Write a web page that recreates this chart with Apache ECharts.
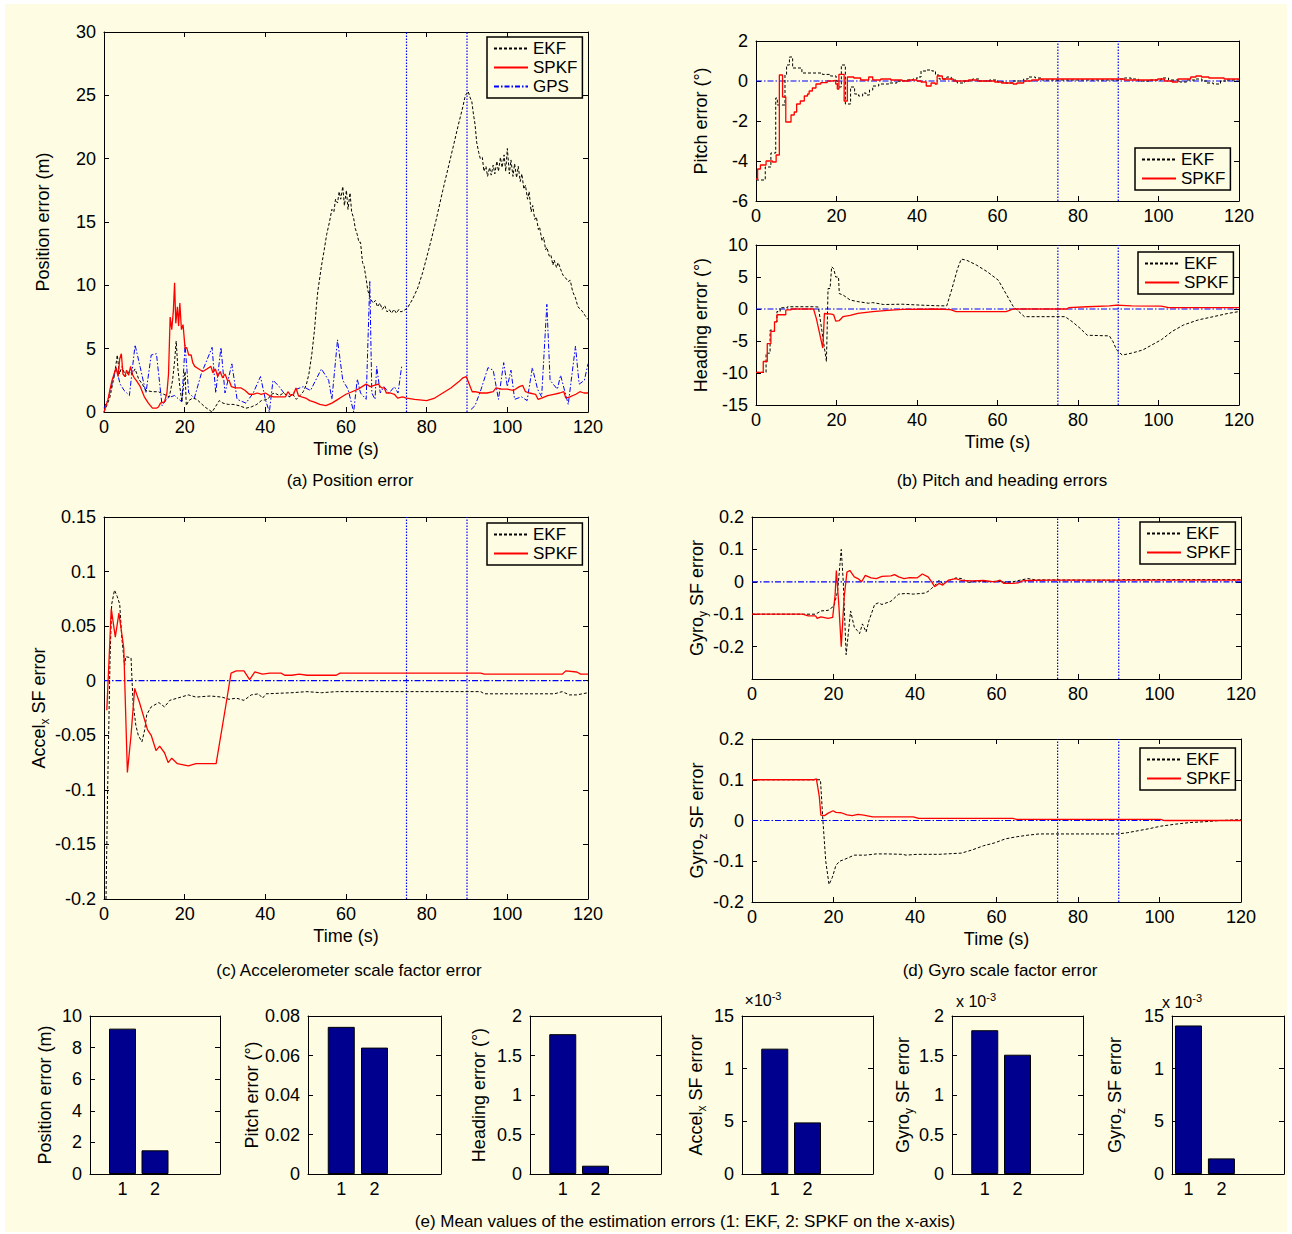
<!DOCTYPE html>
<html>
<head>
<meta charset="utf-8">
<script src="https://cdn.jsdelivr.net/npm/echarts@6/dist/echarts.min.js"></script>
<style>
  html, body { margin: 0; padding: 0; background: #fff; }
  #chart { width: 1292px; height: 1234px; }
</style>
</head>
<body>
<div id="chart"></div>
<script>
// ---- data: [time (s), value] ----
const posEkf = [[0,0],[0.8,0.6],[1.5,1.2],[2.3,2.5],[2.9,3.6],[3.3,4.5],[3.8,3.0],[4.5,3.6],[5.3,2.8],[6.2,3.2],[7.0,3.0],[7.7,3.4],[8.6,2.6],[9.5,2.2],[10.4,1.7],[12,1.6],[13.5,1.6],[14.8,1.4],[16.2,1.2],[17.0,2.5],[17.5,4.0],[17.9,5.6],[18.3,3.5],[18.8,2.0],[19.3,0.8],[19.7,2.0],[20.1,3.2],[20.4,0.5],[21,0.9],[22,1.1],[23,1.0],[24,0.7],[25,0.4],[26.8,0.0],[27.6,0.4],[28.6,0.9],[29.5,0.7],[30.8,0.6],[32,0.6],[33.5,0.5],[35.2,0.3],[36.5,0.4],[37.9,0.6],[39,0.9],[40.6,1.0],[41.5,1.4],[42.3,1.5],[43.5,1.3],[44.5,1.5],[45.9,1.2],[46.8,1.4],[47.7,1.0],[48.6,1.3],[49.4,1.6],[50.2,2.2],[50.8,3.0],[51.5,4.5],[52.2,6.5],[52.7,8.5],[53.0,9.5],[53.9,11.5],[54.6,12.8],[55.2,14.0],[55.9,15.0],[56.5,16.0],[57.0,15.8],[57.4,16.8],[57.9,16.5],[58.3,17.4],[58.7,16.8],[59.2,17.8],[59.6,16.3],[60.1,17.5],[60.5,16.0],[61.0,17.3],[61.4,15.8],[61.9,15.3],[62.3,14.5],[62.8,14.0],[63.2,13.4],[63.6,13.4],[64.1,11.8],[64.5,11.5],[65.0,10.5],[65.4,9.6],[66.0,9.0],[66.7,8.6],[67.3,8.8],[67.8,8.3],[68.4,8.6],[69.0,8.1],[69.6,8.4],[70.2,7.9],[70.7,8.1],[71.3,7.8],[71.9,8.1],[72.5,7.8],[73.1,8.1],[73.6,7.9],[74.3,8.0],[75.2,8.2],[76.5,8.9],[77.8,9.8],[79,11],[80.5,12.8],[82.3,15.1],[84,17.5],[85.5,19.5],[86.7,21.1],[87.8,22.6],[88.9,24.0],[89.6,25.0],[90.3,25.3],[90.8,24.8],[91.2,24.5],[91.6,23.5],[92.0,22.7],[92.4,21.3],[92.9,20.5],[93.3,20.0],[93.8,20.1],[94.2,19.0],[94.7,19.4],[95.1,18.6],[95.6,19.3],[96.0,18.7],[96.5,19.5],[96.9,18.8],[97.4,19.8],[97.8,19.0],[98.3,20.1],[98.7,19.3],[99.2,20.3],[99.6,19.0],[100.0,20.8],[100.5,18.8],[100.9,19.9],[101.4,18.6],[101.8,19.6],[102.3,18.5],[102.7,19.4],[103.2,18.2],[103.6,18.8],[104.1,17.6],[104.5,17.9],[105.0,16.8],[105.4,17.4],[105.9,15.8],[106.3,16.3],[106.8,15.2],[107.2,15.4],[107.7,14.4],[108.0,14.6],[108.6,13.5],[109.0,13.8],[109.5,12.8],[109.8,13.0],[110.4,12.3],[110.8,12.4],[111.3,11.6],[111.6,12.0],[112.2,11.4],[112.6,11.8],[113.3,11.2],[113.8,10.8],[114.4,10.6],[115.1,10.3],[115.6,10.4],[116.2,9.5],[116.9,9.0],[117.5,8.3],[118.2,8.1],[118.7,7.9],[119.3,7.6],[120,7.3]];
const posSpkf = [[0,0],[0.5,0.5],[1,1.0],[1.5,1.8],[2,2.5],[2.5,3.0],[3,3.5],[3.5,2.8],[3.9,4.2],[4.3,4.6],[4.7,3.0],[5.2,2.8],[5.6,3.3],[6.1,2.9],[6.6,3.6],[7.0,3.0],[7.5,2.7],[8,2.5],[9,2.0],[10,1.2],[11,0.7],[12,0.3],[13,0.3],[13.5,0.4],[14,0.7],[15,0.8],[15.6,1.5],[16,3.0],[16.4,7.5],[16.8,6.5],[17.2,8.0],[17.5,10.2],[17.8,7.0],[18.2,8.3],[18.5,6.8],[18.8,8.6],[19.2,6.5],[19.6,6.9],[20.1,5.0],[20.5,5.1],[21,4.5],[21.6,4.5],[22,3.9],[22.5,3.6],[23.5,3.4],[24.5,3.2],[25.5,3.4],[26.5,3.6],[27,3.1],[27.6,3.4],[28.2,2.8],[28.8,3.2],[29.4,2.7],[30,3.0],[30.6,2.5],[31,2.5],[31.6,2.0],[32.5,1.9],[34,1.9],[35,1.7],[36,1.4],[37,1.4],[38,1.5],[39,1.4],[40,1.5],[41,1.3],[42,1.2],[43.5,1.2],[45,1.2],[45.6,1.6],[46.3,1.3],[47,1.4],[47.6,1.9],[48.2,1.3],[49,1.2],[50,1.1],[51,0.9],[52,0.8],[53.5,0.6],[55,0.5],[56.5,0.7],[58,1.0],[59,1.2],[60,1.4],[61.5,1.6],[63,1.8],[64,2.0],[65,2.2],[66,2.0],[67,2.1],[68,2.2],[68.8,1.9],[69.5,1.9],[70,1.5],[71,1.5],[72,1.4],[72.8,1.1],[74,1.2],[75,1.1],[77,1.0],[80,0.9],[82,1.1],[84,1.5],[86,1.9],[88,2.4],[89,2.7],[89.8,2.8],[90.3,2.4],[90.8,2.0],[91.3,1.6],[92,1.6],[93.5,1.5],[95,1.5],[96.5,1.6],[97.2,1.9],[98.5,1.8],[100,1.8],[101.5,1.7],[103,2.0],[103.8,2.1],[104.5,1.6],[105.5,1.5],[107,1.4],[107.6,1.0],[108.5,1.1],[110,1.3],[111.5,1.4],[113,1.5],[114,1.6],[114.5,1.1],[115.5,1.2],[117,1.4],[118,1.6],[119,1.5],[120,1.5]];
const posGps = [[0,0.3],[1,1.0],[2,2.2],[3,3.5],[4,2.2],[5,1.7],[6.3,1.3],[7.7,5.3],[9,3.5],[10.4,1.5],[11.7,4.5],[13,4.6],[14.4,0.5],[15.7,1.1],[17.5,1.3],[19.3,0.8],[20.1,5.3],[21,1.5],[22.4,1.1],[24.1,3.0],[26.8,5.1],[27.7,1.5],[29,5.1],[30,1.5],[31.7,3.8],[33,1.0],[35.2,0.7],[37,1.5],[38.8,2.8],[40,1.0],[41,0.0],[41.9,2.5],[43.2,2.1],[44.6,1.5],[46,1.2],[47.7,1.8],[49.4,2.0],[51.2,1.7],[53.9,3.4],[55.7,2.5],[56.5,1.0],[57.9,5.7],[59.2,2.5],[60.5,1.8],[61.9,0.0],[62.8,2.6],[63.6,1.5],[65,1.0],[65.9,10.3],[66.4,1.5],[67.2,1.0],[67.6,3.6],[68.5,1.5],[69.4,2.0],[70.7,1.5],[72,2.0],[72.9,1.5],[73.8,3.6],[80,null],[91,0.2],[92,0.5],[93.5,1.8],[95.2,3.5],[96.5,3.3],[97.8,1.0],[99.1,3.9],[100,2.0],[100.9,3.3],[101.8,1.0],[103.5,1.2],[104.9,0.9],[106.2,3.5],[107.5,1.8],[108.5,1.2],[109.8,8.5],[110.6,2.5],[112.4,1.8],[113.2,2.9],[115.1,0.6],[116.9,5.2],[117.8,2.2],[119.1,2.5],[120,3.8]];

const pitchEkf = [[0,-4.95],[2.3,-4.3],[3.7,-3.6],[4.9,-0.85],[5.3,-1.2],[7.2,0.3],[7.6,0.8],[8.3,1.2],[9.1,0.65],[11.4,0.4],[16.5,0.33],[18.5,0.25],[19.9,0],[20.3,-0.3],[21.2,0.8],[22.2,-1.15],[23.5,-0.3],[24.5,-0.65],[25.5,-0.75],[26.5,-0.6],[27.3,-0.7],[28.2,-0.45],[29,-0.25],[30.5,-0.15],[33,-0.1],[35,0],[37,0.05],[39,0.1],[40,0.2],[41,0.5],[42.3,0.55],[43.7,0.5],[44.6,0.3],[45.5,0.1],[47.4,0.2],[48.5,0.05],[50,-0.1],[51.8,0],[53.8,0.1],[55.5,0],[58,0.05],[60,-0.05],[62,-0.1],[63.8,0],[66.5,0.1],[67.6,0.2],[69.4,0.15],[71,0.05],[90.5,0.1],[91.5,0.15],[93.2,0.1],[95,0],[98,0.05],[100.7,0.15],[102.5,0.05],[105.3,-0.05],[107,0.05],[109,0.1],[110.8,0],[112,-0.1],[113.6,-0.15],[115.4,0],[117,0.05],[120,0.05]];
const pitchSpkf = [[0,-4.9],[0.4,-4.4],[1.1,-4.2],[2.5,-4.0],[4.1,-4.05],[5.0,-3.7],[5.8,0.3],[6.6,-0.8],[7.4,-2.05],[8.7,-1.7],[9.5,-1.55],[10.1,-1.15],[11,-1.0],[12,-0.75],[12.8,-0.65],[13.2,-0.5],[14,-0.35],[14.9,-0.15],[16.1,-0.08],[17.7,0],[19,0.03],[19.8,-0.15],[20.2,-0.4],[20.6,0.33],[21.9,-1.0],[22.7,0.2],[24.3,0.15],[26,0.05],[28,0.2],[29,0.05],[31,0.1],[33.5,0.05],[36.3,0.0],[38,0.05],[40,0],[41,-0.05],[42.3,-0.25],[43.5,-0.1],[44.5,-0.15],[45,0.25],[46.3,0.1],[49,0],[52.8,0.05],[55,0],[59.3,-0.05],[61,-0.1],[63.9,-0.15],[64.8,-0.1],[66.5,0],[68.5,0.05],[70.3,0.1],[91.5,0.05],[99.8,0.1],[101.5,0],[103.4,-0.05],[104.8,0.1],[108,0.2],[109.3,0.25],[110.7,0.2],[112.5,0.15],[116.3,0.1],[120,0.1]];

const headingEkf = [[0,-9.9],[2.5,-9.9],[2.5,-6.9],[3.5,-6.9],[3.5,-3.3],[4.6,-3.3],[4.6,-2.0],[5.2,-2.0],[5.2,-0.4],[6.0,-0.4],[6.0,0.2],[7.8,0.2],[7.8,0.35],[14.7,0.35],[15.5,0.3],[17.5,-8.2],[17.9,3.2],[18.4,3.2],[18.8,6.6],[19.3,6.3],[19.8,5.0],[20.5,5.0],[20.7,2.4],[21.6,2.2],[23.4,1.4],[25.3,1.15],[28,0.9],[29,1.0],[31.7,0.7],[36.3,0.75],[41,0.6],[45.5,0.5],[47.4,0.5],[48.7,3.2],[50.1,6.35],[51,7.8],[52.4,7.6],[54.7,6.9],[57.5,5.8],[60.2,4.5],[62.1,2.4],[63.9,0.4],[65.3,-0.4],[66.7,-1.2],[76.8,-1.2],[78.6,-2.0],[80.5,-3.0],[82.3,-4.1],[87.8,-4.2],[88.7,-5.1],[89.6,-6.4],[91,-7.2],[93.3,-6.9],[96.1,-6.4],[98.4,-5.6],[100.7,-4.8],[103.4,-3.5],[106.2,-2.5],[109.9,-1.7],[113.6,-1.2],[117.2,-0.7],[120,-0.4]];
const headingSpkf = [[0,-9.9],[1.8,-9.9],[1.8,-8.2],[2.8,-8.2],[2.8,-5.4],[3.7,-5.4],[3.7,-3.5],[4.6,-3.5],[4.6,-2.0],[5.2,-2.0],[5.2,-0.9],[7.4,-0.9],[7.4,-0.15],[8.7,-0.15],[8.7,0],[14.3,0],[15,-1.5],[16.6,-6.1],[17,-0.7],[18.8,-0.8],[19.3,-0.9],[19.8,-1.9],[20.7,-1.8],[21.6,-1.2],[23.4,-1.0],[25.3,-0.7],[29,-0.4],[32.7,-0.2],[36.3,-0.05],[45,0],[48.3,-0.1],[49.7,-0.4],[62.1,-0.4],[63,-0.2],[63.9,0],[77.2,0],[77.7,0.2],[82.3,0.35],[87.8,0.5],[89.6,0.6],[93.3,0.5],[100.7,0.45],[102.5,0.2],[120,0.2]];

const accelEkf = [[0.5,-0.2],[0.9,-0.1],[1.5,0.02],[1.9,0.07],[2.6,0.083],[3.3,0.077],[3.9,0.07],[4.4,0.04],[5.1,0.014],[5.4,0.022],[6.7,0.021],[7.2,-0.02],[7.9,-0.041],[8.5,-0.05],[9.4,-0.056],[10.1,-0.045],[10.6,-0.031],[11.7,-0.024],[13.6,-0.02],[15,-0.024],[16.3,-0.018],[19.1,-0.015],[20.9,-0.013],[22.8,-0.015],[26.4,-0.014],[29.2,-0.015],[31,-0.017],[32.8,-0.016],[34.7,-0.018],[36.5,-0.013],[38.3,-0.012],[39.3,-0.016],[40.2,-0.012],[46.6,-0.011],[50.3,-0.01],[53.9,-0.011],[57.6,-0.01],[93.4,-0.01],[94.3,-0.012],[111.7,-0.012],[113.6,-0.01],[115.4,-0.013],[117.2,-0.013],[120,-0.011]];
const accelSpkf = [[0.7,-0.027],[1.8,0.066],[2.8,0.04],[3.7,0.062],[4.9,0.03],[5.8,-0.084],[6.7,-0.05],[7.6,-0.007],[8.8,-0.02],[10.8,-0.045],[11.7,-0.05],[12.9,-0.064],[13.8,-0.06],[15,-0.066],[15.9,-0.075],[16.8,-0.071],[18.2,-0.076],[20.9,-0.078],[22.8,-0.076],[27.8,-0.076],[30.1,-0.025],[31.5,0.007],[32.8,0.009],[34.7,0.009],[36.1,0.001],[37.4,0.008],[39.3,0.006],[41.1,0.007],[43.9,0.007],[44.8,0.005],[46.6,0.005],[48.4,0.006],[50.3,0.005],[57.6,0.005],[58.5,0.007],[93.4,0.007],[94.3,0.006],[113.6,0.006],[114.5,0.009],[117.2,0.008],[118.2,0.006],[120,0.006]];

const gyroYEkf = [[0,-0.1],[15.6,-0.1],[16.9,-0.09],[18.7,-0.088],[20.1,-0.075],[21,-0.03],[21.9,0.1],[22.4,0],[23.1,-0.225],[24.2,-0.09],[25.1,-0.14],[25.8,-0.15],[26.4,-0.16],[27.1,-0.13],[28,-0.155],[28.7,-0.12],[30.1,-0.07],[31,-0.065],[31.9,-0.07],[34.1,-0.06],[36,-0.038],[37.8,-0.036],[39.6,-0.038],[42.3,-0.035],[43.2,-0.03],[44.1,-0.02],[45,-0.01],[45.9,0.005],[46.8,-0.005],[48.6,0.005],[50,0.012],[51.4,0.01],[53.2,-0.002],[55,0.003],[57.7,0],[60.4,0.002],[62.2,-0.002],[64,0],[65.8,0.005],[67.7,0.01],[69.5,0.006],[90,0.005],[91,0.007],[120,0.007]];
const gyroYSpkf = [[0,-0.1],[12.4,-0.1],[13.8,-0.105],[15.6,-0.105],[16,-0.113],[16.9,-0.108],[18.7,-0.113],[19.8,-0.11],[20.4,-0.04],[20.7,0.035],[21.3,-0.07],[21.9,-0.2],[22.6,-0.05],[23.3,0.03],[24,0.035],[25.1,0.015],[26,0.01],[26.9,0],[27.8,0.02],[29.2,0.012],[30.5,0.01],[31.9,0.017],[34.1,0.018],[35,0.022],[36,0.015],[37.3,0.01],[38.7,0.013],[40.5,0.012],[41.8,0.024],[43.2,0.015],[44.1,0],[44.8,-0.015],[45.9,-0.005],[46.8,-0.01],[48.2,0.005],[50,0.01],[51.4,0.004],[54.1,0.003],[56.8,0.004],[59.5,0],[60.9,0.005],[61.8,-0.005],[64,-0.005],[65.4,-0.003],[66.3,0.003],[67.7,0.004],[73.1,0.005],[120,0.005]];

const gyroZEkf = [[0,0.1],[16.8,0.1],[17.4,0],[18.1,-0.1],[18.9,-0.157],[19.7,-0.14],[20.6,-0.11],[21.5,-0.1],[22.8,-0.095],[25.1,-0.085],[27.8,-0.085],[30.5,-0.082],[33.2,-0.082],[36.9,-0.083],[37.8,-0.085],[40.5,-0.083],[45.9,-0.083],[51.4,-0.08],[54.1,-0.072],[56.8,-0.062],[59.5,-0.055],[62.2,-0.045],[64.9,-0.04],[67.7,-0.036],[70.4,-0.033],[89.8,-0.033],[92.1,-0.03],[94.8,-0.025],[97.5,-0.02],[100.3,-0.014],[103.9,-0.009],[107.5,-0.005],[111.1,-0.003],[114.8,0],[120,0.002]];
const gyroZSpkf = [[0,0.1],[15.1,0.1],[15.8,0.102],[16.5,0.06],[16.9,0.013],[17.8,0.012],[18.7,0.018],[19.9,0.024],[20.6,0.02],[21.9,0.019],[23.3,0.014],[24.6,0.012],[26,0.015],[27.4,0.013],[29.6,0.009],[39.6,0.009],[40.9,0.005],[64,0.005],[64.9,0.003],[100.3,0.003],[101.2,0],[120,0]];

// mean errors, bar 1 = EKF, bar 2 = SPKF
const meanCats = [1, 2];
const posMean = [9.2, 1.5];
const pitchMean = [0.0745, 0.064];
const headingMean = [1.77, 0.105];
const accelMean = [11.9, 4.9];   // x 10^-3
const gyroYMean = [1.82, 1.51];  // x 10^-3
const gyroZMean = [14.1, 1.48];  // x 10^-3

// GPS outage window, marked by dotted verticals
const gpsOutage = [75, 90];

// ---- layout helpers ----
const BG = '#fefde3';
const FONT = '"Liberation Sans", Arial, sans-serif';
const grids = [], xAxis = [], yAxis = [], series = [], legend = [], graphic = [];

const labelStyle = { color: '#000', fontSize: 18, fontFamily: FONT };
const nameStyle = {
  color: '#000', fontSize: 18, fontFamily: FONT,
  rich: {
    n: { color: '#000', fontSize: 18, fontFamily: FONT, lineHeight: 24 },
    s: { color: '#000', fontSize: 12, fontFamily: FONT, lineHeight: 12, verticalAlign: 'bottom' }
  }
};

function axis(gi, position, opts) {
  return Object.assign({
    gridIndex: gi, type: 'value', position,
    axisLine: { show: true, onZero: false, lineStyle: { color: '#000', width: 1 } },
    axisTick: { show: true, inside: true, length: 5, lineStyle: { color: '#000' } },
    axisLabel: { show: false },
    splitLine: { show: false }
  }, opts);
}

function addPanel(box, xs, ys) {
  const gi = grids.length;
  grids.push({ left: box[0], top: box[1], width: box[2], height: box[3] });
  const xr = { min: xs.min, max: xs.max, interval: xs.interval };
  const yr = { min: ys.min, max: ys.max, interval: ys.interval };
  xAxis.push(axis(gi, 'bottom', Object.assign({}, xr, {
    axisLabel: Object.assign({ show: true, margin: 6, formatter: xs.fmt, customValues: xs.custom }, labelStyle),
    axisTick: xs.custom ? { show: false } : { show: true, inside: true, length: 5, lineStyle: { color: '#000' } },
    name: xs.name || '', nameLocation: 'middle', nameGap: xs.nameGap || 0, nameTextStyle: nameStyle
  })));
  xAxis.push(axis(gi, 'top', Object.assign({}, xr, xs.custom ? { axisTick: { show: false } } : {})));
  yAxis.push(axis(gi, 'left', Object.assign({}, yr, {
    axisLabel: Object.assign({ show: true, margin: 8, formatter: ys.fmt }, labelStyle),
    name: ys.name, nameLocation: 'middle', nameRotate: 90, nameGap: ys.nameGap, nameTextStyle: nameStyle
  })));
  yAxis.push(axis(gi, 'right', yr));
  return { x: xAxis.length - 2, y: yAxis.length - 2, xs, ys };
}

const EKF = { color: '#000', width: 1, type: [3, 2] };
const SPKF = { color: '#ff0000', width: 1.3, type: 'solid' };
const GPS = { color: '#0000ff', width: 1, type: [5, 2, 1.5, 2] };
const DOTTED = { color: '#0000ff', width: 1.2, type: [1.5, 1.5] };
const DASHDOT = { color: '#0000ff', width: 1.2, type: [6, 2, 1.5, 2] };

function line(name, data, ax, style, step) {
  series.push({
    name, type: 'line', data, xAxisIndex: ax.x, yAxisIndex: ax.y,
    color: style.color, lineStyle: style, symbol: 'none', showSymbol: false,
    step: step || false, connectNulls: false, silent: true, animation: false
  });
}

// dotted verticals at the outage bounds, dash-dot zero line where wanted
function guides(ax, zeroLine) {
  gpsOutage.forEach(t => line('', [[t, ax.ys.min], [t, ax.ys.max]], ax, DOTTED));
  if (zeroLine) line('', [[ax.xs.min, 0], [ax.xs.max, 0]], ax, DASHDOT);
}

function addLegend(names, left, top) {
  legend.push({
    data: names, left, top, orient: 'vertical', selectedMode: false,
    itemWidth: 34, itemHeight: 12, itemGap: 2, padding: [3, 5, 3, 6],
    itemStyle: { opacity: 0 },
    borderColor: '#000', borderWidth: 1.5, borderRadius: 0, backgroundColor: BG,
    textStyle: { color: '#000', fontSize: 17, fontFamily: FONT }
  });
}

function bar(data, ax) {
  series.push({
    type: 'bar', data: meanCats.map((c, i) => [c, data[i]]), xAxisIndex: ax.x, yAxisIndex: ax.y,
    barWidth: 27, itemStyle: { color: '#00008f', borderColor: '#000', borderWidth: 1 },
    silent: true, animation: false
  });
}

function text(str, x, y, size, rich) {
  graphic.push({
    type: 'text', x, y, silent: true,
    style: { text: str, fill: '#000', font: size + 'px ' + FONT, textAlign: 'center', textVerticalAlign: 'middle', rich }
  });
}

const time = { min: 0, max: 120, interval: 20 };
const timeNamed = Object.assign({ name: 'Time (s)', nameGap: 28 }, time);

// (a) position error
const pa = addPanel([104, 32, 484, 380], timeNamed,
  { min: 0, max: 30, interval: 5, name: 'Position error (m)', nameGap: 52 });
guides(pa, false);
line('GPS', posGps, pa, GPS);
line('EKF', posEkf, pa, EKF);
line('SPKF', posSpkf, pa, SPKF);
addLegend(['EKF', 'SPKF', 'GPS'], 487, 37);

// (b) pitch and heading
const pb1 = addPanel([756, 41, 483, 160], time,
  { min: -6, max: 2, interval: 2, name: 'Pitch error (°)', nameGap: 46 });
guides(pb1, true);
line('EKF', pitchEkf, pb1, EKF, 'end');
line('SPKF', pitchSpkf, pb1, SPKF, 'end');
addLegend(['EKF', 'SPKF'], 1135, 148);

const pb2 = addPanel([756, 245, 483, 160], timeNamed,
  { min: -15, max: 10, interval: 5, name: 'Heading error (°)', nameGap: 46 });
guides(pb2, true);
line('EKF', headingEkf, pb2, EKF);
line('SPKF', headingSpkf, pb2, SPKF);
addLegend(['EKF', 'SPKF'], 1138, 252);

// (c) accelerometer scale factor
const pc = addPanel([104, 517, 484, 382], timeNamed,
  { min: -0.2, max: 0.15, interval: 0.05, name: '{n|Accel}{s|x}{n| SF error}', nameGap: 52 });
guides(pc, true);
line('EKF', accelEkf, pc, EKF);
line('SPKF', accelSpkf, pc, SPKF);
addLegend(['EKF', 'SPKF'], 487, 523);

// (d) gyro scale factor
const pd1 = addPanel([752, 517, 489, 162], time,
  { min: -0.3, max: 0.2, interval: 0.1, name: '{n|Gyro}{s|y}{n| SF error}', nameGap: 43,
    fmt: v => (v < -0.25 ? '' : String(Math.round(v * 10) / 10)) });
guides(pd1, true);
line('EKF', gyroYEkf, pd1, EKF);
line('SPKF', gyroYSpkf, pd1, SPKF);
addLegend(['EKF', 'SPKF'], 1140, 522);

const pd2 = addPanel([752, 739, 489, 163], timeNamed,
  { min: -0.2, max: 0.2, interval: 0.1, name: '{n|Gyro}{s|z}{n| SF error}', nameGap: 43 });
guides(pd2, true);
line('EKF', gyroZEkf, pd2, EKF);
line('SPKF', gyroZSpkf, pd2, SPKF);
addLegend(['EKF', 'SPKF'], 1140, 748);

// (e) mean values
const barX = { min: 0, max: 4, custom: meanCats };
const oneForTen = v => (v === 10 ? '1' : String(v));
bar(posMean, addPanel([90, 1016, 130, 158], barX,
  { min: 0, max: 10, interval: 2, name: 'Position error (m)', nameGap: 36 }));
bar(pitchMean, addPanel([308, 1016, 133, 158], barX,
  { min: 0, max: 0.08, interval: 0.02, name: 'Pitch error (°)', nameGap: 44 }));
bar(headingMean, addPanel([530, 1016, 131, 158], barX,
  { min: 0, max: 2, interval: 0.5, name: 'Heading error (°)', nameGap: 42 }));
bar(accelMean, addPanel([742, 1016, 131, 158], barX,
  { min: 0, max: 15, interval: 5, fmt: oneForTen, name: '{n|Accel}{s|x}{n| SF error}', nameGap: 34 }));
bar(gyroYMean, addPanel([952, 1016, 131, 158], barX,
  { min: 0, max: 2, interval: 0.5, name: '{n|Gyro}{s|y}{n| SF error}', nameGap: 35 }));
bar(gyroZMean, addPanel([1172, 1016, 112, 158], { min: 0.5, max: 3.9, custom: meanCats },
  { min: 0, max: 15, interval: 5, fmt: oneForTen, name: '{n|Gyro}{s|z}{n| SF error}', nameGap: 45 }));

// captions and exponent labels
graphic.unshift({ type: 'rect', z: -10, silent: true, shape: { x: 5, y: 4, width: 1282, height: 1228 }, style: { fill: BG } });
text('(a) Position error', 350, 480, 17);
text('(b) Pitch and heading errors', 1002, 480, 17);
text('(c) Accelerometer scale factor error', 349, 970, 17);
text('(d) Gyro scale factor error', 1000, 970, 17);
text('(e) Mean values of the estimation errors (1: EKF, 2: SPKF on the x-axis)', 685, 1221, 17);
const expRich = {
  a: { fill: '#000', fontSize: 16, fontFamily: FONT, lineHeight: 20 },
  b: { fill: '#000', fontSize: 11, fontFamily: FONT, lineHeight: 11, verticalAlign: 'top' }
};
text('{a|×10}{b|-3}', 763, 1000, 16, expRich);
text('{a|x 10}{b|-3}', 976, 1001, 16, expRich);
text('{a|x 10}{b|-3}', 1182, 1002, 16, expRich);

const chart = echarts.init(document.getElementById('chart'), null, { renderer: 'svg' });
chart.setOption({
  backgroundColor: '#ffffff',
  animation: false,
  grid: grids, xAxis, yAxis, series, legend, graphic
});
</script>
</body>
</html>
